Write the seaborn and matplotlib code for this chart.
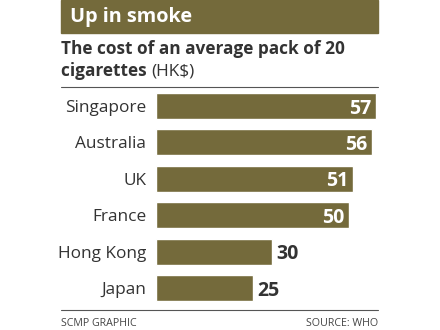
import matplotlib
matplotlib.use("Agg")
import matplotlib.pyplot as plt
import seaborn as sns
import pandas as pd
from matplotlib.patches import Rectangle
from matplotlib.lines import Line2D

countries = ["Singapore", "Australia", "UK", "France", "Hong Kong", "Japan"]
prices = [57, 56, 51, 50, 30, 25]
title = "Up in smoke"
subtitle1 = "The cost of an average pack of 20"
subtitle2 = "cigarettes"
unit = "(HK$)"
credit = "SCMP GRAPHIC"
source = "SOURCE: WHO"

OLIVE = "#746a3b"
DARK = "#333333"

sns.set_theme(style="white")
plt.rcParams["font.family"] = ["Open Sans", "DejaVu Sans"]

df = pd.DataFrame({"country": countries, "price": prices})

W, H = 440, 330
fig = plt.figure(figsize=(4.4, 3.3), dpi=100)

def fx(px):
    return px / W

def fy(py):
    return 1 - py / H

# axes: x from 156 px, 3.86 px per unit
ax = fig.add_axes([fx(156), fy(306.2), 60 * 3.86 / W, 218.4 / H])
sns.barplot(data=df, x="price", y="country", orient="h", color=OLIVE,
            saturation=1, width=0.71, ax=ax)
ax.set_xlim(0, 60)
ax.set_ylim(5.5, -0.5)
ax.set_xlabel("")
ax.set_ylabel("")
ax.set_xticks([])
for s in ax.spines.values():
    s.set_visible(False)
ax.tick_params(axis="y", length=0, pad=7)
for lbl in ax.get_yticklabels():
    lbl.set_fontsize(12.4)
    lbl.set_color(DARK)

for i, v in enumerate(prices):
    if v >= 40:
        ax.text(v - 1.3, i, str(v), ha="right", va="center_baseline", color="white",
                fontsize=14, fontweight="bold")
    else:
        ax.text(v + 1.2, i, str(v), ha="left", va="center_baseline", color=DARK,
                fontsize=14, fontweight="bold")

# title box
fig.patches.append(Rectangle((fx(61), fy(33)), fx(378) - fx(61), 33 / H,
                             transform=fig.transFigure, color=OLIVE, zorder=0))
fig.text(fx(70), fy(17), title, color="white", fontsize=14.3, fontweight="bold",
         va="center")

fig.text(fx(61), fy(49), subtitle1, color=DARK, fontsize=12.4, fontweight="bold",
         va="center")
t = fig.text(fx(61), fy(71), subtitle2 + " ", color=DARK, fontsize=12.4,
             fontweight="bold", va="center")
fig.canvas.draw()
bb = t.get_window_extent()
fig.text(bb.x1 / W, fy(71), unit, color=DARK, fontsize=12.4, va="center")

fig.add_artist(Line2D([fx(61), fx(378)], [fy(87), fy(87)], color="#555555",
                      lw=0.8, transform=fig.transFigure))
fig.add_artist(Line2D([fx(61), fx(378)], [fy(310), fy(310)], color="#555555",
                      lw=0.8, transform=fig.transFigure))

fig.text(fx(61), fy(323), credit, color="#444444", fontsize=7.7, va="center")
fig.text(fx(378), fy(323), source, color="#444444", fontsize=7.7, va="center",
         ha="right")

fig.savefig("out.png", dpi=100)
